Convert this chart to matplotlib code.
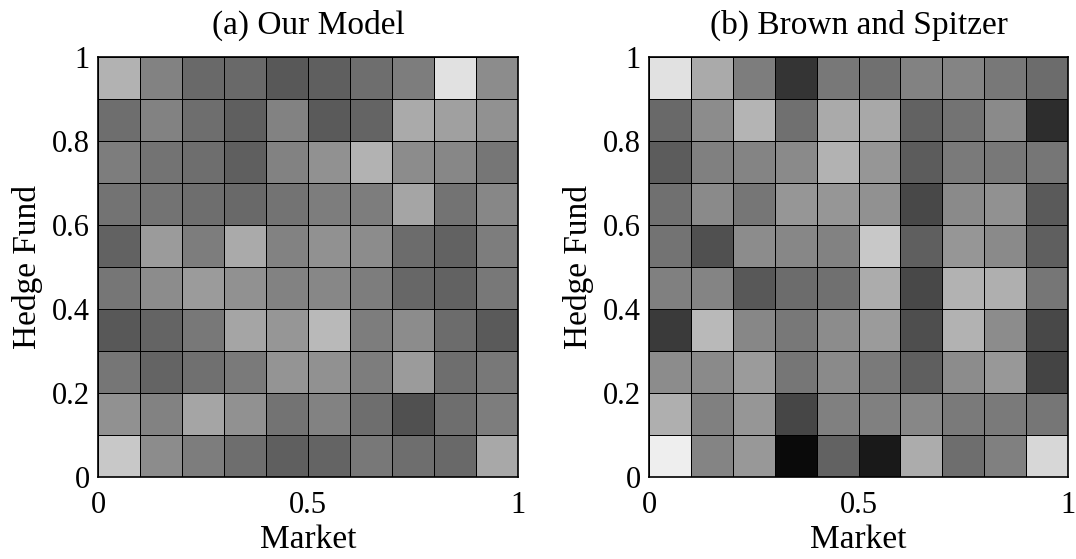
import numpy as np
import matplotlib
matplotlib.use("Agg")
import matplotlib.pyplot as plt

plt.rcParams['font.family'] = ['Liberation Serif', 'DejaVu Serif']
plt.rcParams['mathtext.fontset'] = 'stix'

# Cell grey levels (0 = black, 255 = white); rows listed from top (Hedge Fund = 1) to bottom
our_model = [
    [178, 130, 105, 105, 88, 95, 110, 125, 225, 140],
    [110, 130, 110, 95, 130, 90, 100, 170, 160, 145],
    [125, 115, 110, 95, 130, 145, 178, 140, 135, 118],
    [115, 115, 110, 105, 115, 125, 125, 165, 115, 135],
    [98, 155, 125, 170, 130, 145, 140, 108, 98, 125],
    [118, 140, 155, 145, 130, 135, 125, 103, 98, 120],
    [88, 100, 120, 165, 150, 185, 125, 140, 108, 90],
    [118, 100, 112, 122, 148, 145, 125, 155, 110, 120],
    [145, 130, 165, 145, 115, 130, 110, 80, 110, 125],
    [200, 140, 125, 110, 95, 100, 120, 110, 105, 168],
]

brown_spitzer = [
    [225, 170, 125, 52, 120, 112, 130, 132, 120, 108],
    [105, 140, 180, 112, 170, 168, 98, 115, 138, 45],
    [92, 128, 132, 138, 178, 150, 92, 122, 120, 118],
    [112, 138, 118, 150, 150, 145, 72, 138, 145, 90],
    [115, 80, 140, 135, 130, 200, 95, 150, 138, 95],
    [128, 132, 88, 108, 112, 172, 72, 178, 175, 118],
    [58, 185, 135, 120, 140, 155, 78, 178, 140, 72],
    [140, 138, 155, 118, 138, 122, 95, 140, 152, 68],
    [175, 128, 150, 70, 128, 128, 135, 122, 122, 118],
    [238, 132, 152, 10, 98, 25, 172, 110, 128, 215],
]

titles = ["(a) Our Model", "(b) Brown and Spitzer"]
x_label = "Market"
y_label = "Hedge Fund"
x_ticks = [0, 0.5, 1]
x_tick_labels = ["0", "0.5", "1"]
y_ticks = [0, 0.2, 0.4, 0.6, 0.8, 1]
y_tick_labels = ["0", "0.2", "0.4", "0.6", "0.8", "1"]

fig = plt.figure(figsize=(10.76, 5.59), dpi=100)
ax_left = fig.add_axes([0.0911, 0.1467, 0.3903, 0.7513])
ax_right = fig.add_axes([0.6032, 0.1467, 0.3894, 0.7513])

edges = np.linspace(0, 1, 11)
for ax, grid, title in zip([ax_left, ax_right], [our_model, brown_spitzer], titles):
    values = np.array(grid, dtype=float)[::-1]  # bottom row first
    ax.pcolormesh(edges, edges, values, cmap="gray", vmin=0, vmax=255,
                  edgecolors="black", linewidth=0.7)
    ax.set_xlim(0, 1)
    ax.set_ylim(0, 1)
    ax.set_xticks(x_ticks)
    ax.set_xticklabels(x_tick_labels)
    ax.set_yticks(y_ticks)
    ax.set_yticklabels(y_tick_labels)
    ax.tick_params(axis="x", length=0, labelsize=22, pad=10)
    ax.tick_params(axis="y", length=0, labelsize=22, pad=6)
    ax.set_xlabel(x_label, fontsize=24, labelpad=3)
    ax.set_ylabel(y_label, fontsize=24, labelpad=6)
    ax.set_title(title, fontsize=24, pad=17)
    for spine in ax.spines.values():
        spine.set_linewidth(1.2)

fig.savefig("out.png", dpi=100)
